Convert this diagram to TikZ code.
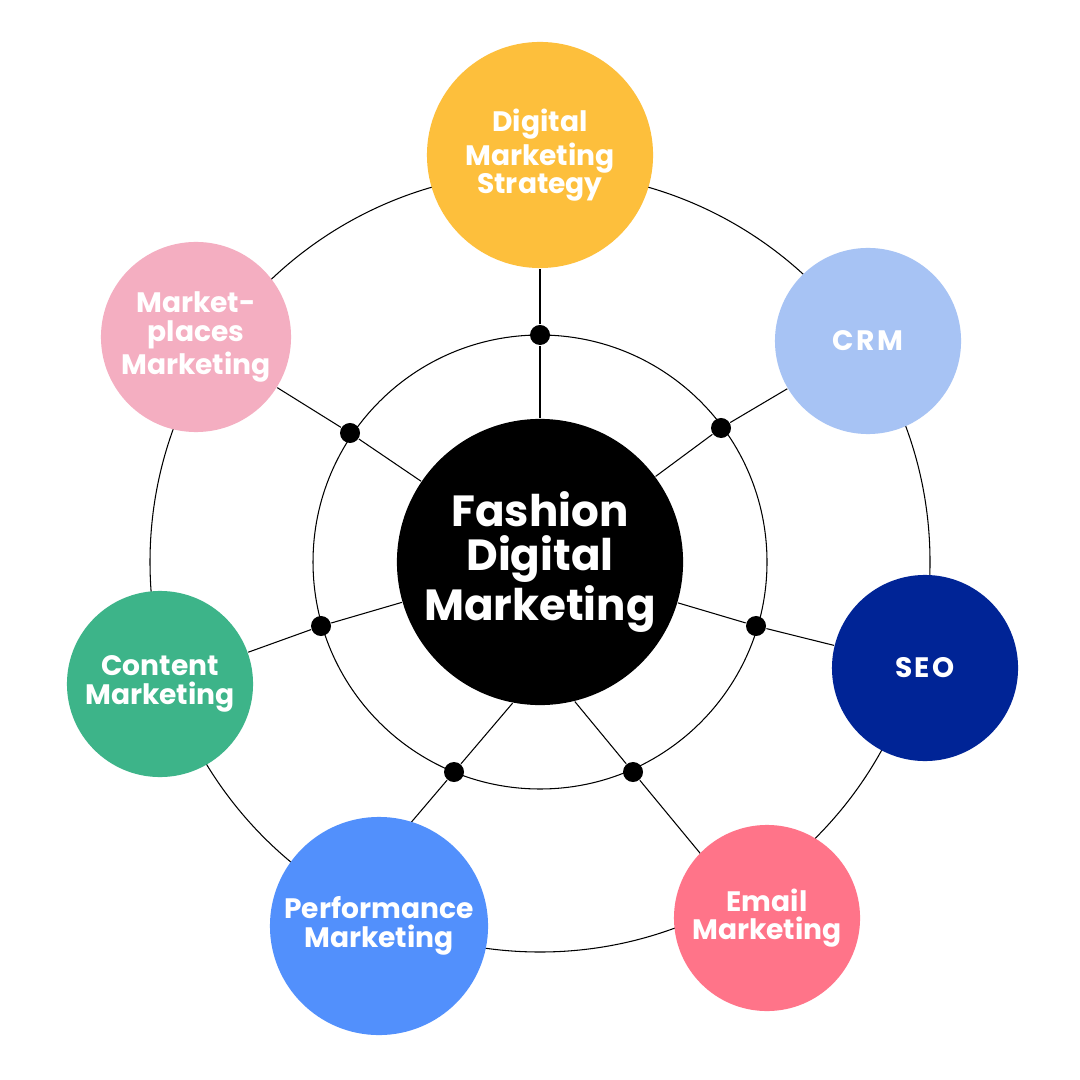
\documentclass[tikz,border=0pt]{standalone}
\usepackage{fontspec}
\usetikzlibrary{calc,backgrounds}
\setmainfont{Poppins}[UprightFont=* SemiBold,BoldFont=* Bold]
\definecolor{cy}{HTML}{FDBF3C}
\definecolor{ccrm}{HTML}{A7C3F4}
\definecolor{cseo}{HTML}{002496}
\definecolor{cem}{HTML}{FF7489}
\definecolor{cperf}{HTML}{5290FC}
\definecolor{ccon}{HTML}{3DB489}
\definecolor{cmp}{HTML}{F4AEC1}
\begin{document}
\begin{tikzpicture}[x=0.01cm,y=-0.01cm,
  outer/.style={circle,inner sep=0pt,text=white,align=center,font=\fontsize{8}{8.1}\selectfont\bfseries},
  dot/.style={circle,fill=black,inner sep=0pt,minimum size=0.2cm},
  ln/.style={line width=0.3pt}]
\useasboundingbox (0,0) rectangle (1080,1080);
\coordinate (c) at (540,562);
\node[dot] (d1) at (540,335) {};
\node[dot] (d2) at (721,428) {};
\node[dot] (d3) at (756,626) {};
\node[dot] (d4) at (633,772) {};
\node[dot] (d5) at (454,772) {};
\node[dot] (d6) at (321,626) {};
\node[dot] (d7) at (350,433) {};
\node[outer,fill=cy,minimum size=2.26cm] (o1) at (540,155) {Digital\\Marketing\\Strategy};
\node[outer,fill=ccrm,minimum size=1.86cm,font=\fontsize{8}{8}\selectfont\bfseries\addfontfeature{LetterSpace=8}] (o2) at (868,341) {CRM};
\node[outer,fill=cseo,minimum size=1.86cm,font=\fontsize{8}{8}\selectfont\bfseries\addfontfeature{LetterSpace=8}] (o3) at (925,668) {SEO};
\node[outer,fill=cem,minimum size=1.86cm] (o4) at (767,918) {Email\\Marketing};
\node[outer,fill=cperf,minimum size=2.18cm] (o5) at (379,926) {Performance\\Marketing};
\node[outer,fill=ccon,minimum size=1.86cm] (o6) at (160,684) {Content\\Marketing};
\node[outer,fill=cmp,minimum size=1.90cm] (o7) at (196,337) {Market-\\places\\Marketing};
\node[circle,fill=black,minimum size=2.86cm,inner sep=0pt,text=white,align=center,font=\fontsize{12.4}{12.4}\selectfont\bfseries] (m) at (c) {Fashion\\Digital\\Marketing};
\begin{scope}[on background layer]
\fill[white] (0,0) rectangle (1080,1080);
\draw[ln] (c) circle[radius=390];
\draw[ln] (c) circle[radius=227];
\foreach \i in {1,2,3,6,7}{\draw[ln] (m) -- (d\i) -- (o\i);}
\draw[ln] (m.-101) -- (d5) -- ($(m.-101)!2.3!(d5)$);
\draw[ln] (m.-76) -- (d4) -- ($(m.-76)!2.3!(d4)$);
\end{scope}
\end{tikzpicture}
\end{document}
